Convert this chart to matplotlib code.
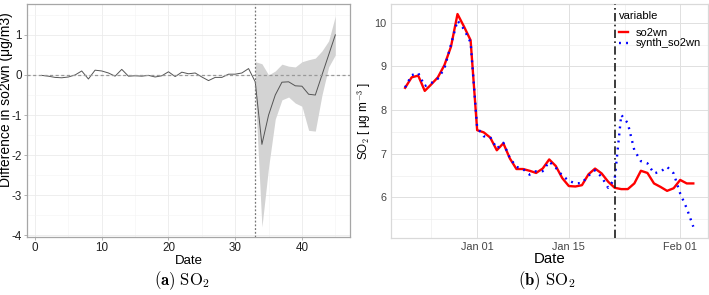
import numpy as np
import pandas as pd
import matplotlib
matplotlib.use('Agg')
import matplotlib.pyplot as plt
import matplotlib.dates as mdates

plt.rcParams['font.family'] = ['Liberation Sans', 'DejaVu Sans']
plt.rcParams['mathtext.fontset'] = 'cm'
plt.rcParams['axes.unicode_minus'] = False

"""
DATA
"""

# left panel: difference so2wn - synthetic, day index 1..45
day_index = np.arange(1, 46)
diff_values = [-0.01, -0.03, -0.06, -0.07, -0.05, 0.0, 0.1, -0.1, 0.12, 0.1,
               0.05, -0.03, 0.14, -0.03, -0.02, -0.03, -0.01, -0.05, -0.02, 0.08,
               -0.04, 0.07, 0.03, 0.05, -0.05, -0.14, -0.06, -0.06, 0.02, 0.02,
               0.05, 0.16, -0.17, -1.73, -1.0, -0.5, -0.18, -0.17, -0.27, -0.28,
               -0.48, -0.5, 0.0, 0.5, 1.0]

# confidence band after the intervention (days 33..45)
band_days = np.arange(33, 46)
band_upper = [0.33, 0.28, 0.0, 0.1, 0.27, 0.22, 0.2, 0.33, 0.38, 0.42, 0.6, 0.85, 1.47]
band_lower = [-0.4, -3.79, -2.3, -1.1, -0.62, -0.55, -0.7, -0.78, -1.38, -1.4, -0.5, 0.2, 0.5]

intervention_day = 33

# right panel: daily series
dates = pd.date_range('2019-12-21', '2020-02-03', freq='D')
so2wn = [8.51, 8.75, 8.79, 8.44, 8.59, 8.75, 9.03, 9.45, 10.2, 9.91,
         9.6, 7.54, 7.49, 7.37, 7.08, 7.24, 6.89, 6.65, 6.65, 6.61,
         6.56, 6.66, 6.87, 6.72, 6.44, 6.26, 6.25, 6.28, 6.53, 6.66,
         6.55, 6.36, 6.22, 6.19, 6.19, 6.32, 6.61, 6.56, 6.32, 6.24,
         6.15, 6.21, 6.4, 6.32, 6.32]
synth_so2wn = [8.52, 8.8, 8.85, 8.55, 8.62, 8.72, 8.95, 9.5, 10.05, 9.85,
               9.55, 7.6, 7.4, 7.38, 7.12, 7.25, 6.9, 6.7, 6.65, 6.52,
               6.6, 6.6, 6.82, 6.68, 6.5, 6.38, 6.32, 6.33, 6.5, 6.62,
               6.47, 6.22, 6.42, 7.89, 7.7, 7.08, 6.83, 6.78, 6.55, 6.59,
               6.7, 6.55, 6.09, 5.75, 5.33]
intervention_date = pd.Timestamp('2020-01-22')

W, H = 709, 295
fig = plt.figure(figsize=(W / 100, H / 100), dpi=100)

# ---------------- left panel ----------------
ax1 = fig.add_axes([27 / W, 58 / H, 323 / W, 233 / H])
ax1.fill_between(band_days, band_lower, band_upper, color='#d3d3d3', lw=0, zorder=2)
ax1.plot(day_index, diff_values, color='#555555', lw=0.7, zorder=3)
ax1.axhline(0, color='#999999', lw=0.9, ls=(0, (2.5, 2)), zorder=4)
ax1.axvline(intervention_day, color='#777777', lw=0.9, ls=(0, (1.5, 1.5)), zorder=4)

ax1.set_xlim(-1.2, 47.2)
ax1.set_ylim(-4.04, 1.77)
ax1.set_xticks([0, 10, 20, 30, 40])
ax1.set_xticks([5, 15, 25, 35, 45], minor=True)
ax1.set_yticks([-4, -3, -2, -1, 0, 1])
ax1.set_yticks([-3.5, -2.5, -1.5, -0.5, 0.5, 1.5], minor=True)
ax1.grid(which='major', color='#ebebeb', lw=0.6, zorder=0)
ax1.grid(which='minor', color='#f4f4f4', lw=0.4, zorder=0)
ax1.set_axisbelow(True)
for sp in ax1.spines.values():
    sp.set_color('#a6a6a6')
    sp.set_linewidth(0.9)
ax1.tick_params(which='major', length=2.5, color='#a6a6a6', width=0.6,
                labelsize=8.4, labelcolor='#222222', pad=1.0)
ax1.tick_params(which='minor', length=0)
ax1.set_xlabel('Date', fontsize=9.5, labelpad=0.5)
fig.text(5.6 / W, 1 - 100 / H, 'Difference in so2wn (\u03bcg/m3)', rotation=90,
         ha='center', va='center', fontsize=10)

# ---------------- right panel ----------------
ax2 = fig.add_axes([390.7 / W, 57 / H, 317 / W, 234 / H])
ax2.plot(dates, so2wn, color='#ff0000', lw=1.7, zorder=3, label='so2wn')
ax2.plot(dates, synth_so2wn, color='#0000ff', lw=1.7, ls=(0, (0.8, 2.2)),
         zorder=4, label='synth_so2wn')
ax2.axvline(intervention_date, color='#1a1a1a', lw=1.2, ls=(0, (5, 2, 1, 2)), zorder=5)

x_pad = pd.Timedelta(hours=2.2 * 24)
ax2.set_xlim(dates[0] - x_pad, dates[-1] + x_pad)
ax2.set_ylim(5.07, 10.43)
ax2.set_xticks([pd.Timestamp('2020-01-01'), pd.Timestamp('2020-01-15'),
                pd.Timestamp('2020-02-01')])
ax2.set_xticks([pd.Timestamp('2019-12-25'), pd.Timestamp('2020-01-08'),
                pd.Timestamp('2020-01-23 12:00')], minor=True)
ax2.xaxis.set_major_formatter(mdates.DateFormatter('%b %d'))
ax2.set_yticks([6, 7, 8, 9, 10])
ax2.set_yticks([5.5, 6.5, 7.5, 8.5, 9.5], minor=True)
ax2.grid(which='major', color='#e0e0e0', lw=0.7, zorder=0)
ax2.grid(which='minor', color='#eeeeee', lw=0.5, zorder=0)
ax2.set_axisbelow(True)
for sp in ax2.spines.values():
    sp.set_color('#d9d9d9')
    sp.set_linewidth(0.9)
ax2.tick_params(which='both', length=0, labelsize=7.8, labelcolor='#444444', pad=3)
ax2.set_xlabel('Date', fontsize=10.8, labelpad=0)
ax2.set_ylabel(r'SO$_2$ [ $\mathregular{\mu}$g m$^{-3}$ ]', fontsize=8.5, labelpad=1)

leg = ax2.legend(title='variable', loc='upper left',
                 bbox_to_anchor=((619 - 390.7) / 317, 1 - 7 / 234),
                 frameon=False, fontsize=8, title_fontsize=8, handlelength=0.8,
                 handletextpad=0.7, labelspacing=0.05, borderaxespad=0, borderpad=0)
leg._legend_box.align = 'left'
leg._legend_box.sep = 5

# captions
fig.text(181.7 / W, 1 - 281 / H, r'$\mathbf{(a)}\ \mathrm{SO_2}$', ha='center',
         va='center', fontsize=12)
fig.text(547 / W, 1 - 281 / H, r'$\mathbf{(b)}\ \mathrm{SO_2}$', ha='center',
         va='center', fontsize=12)

fig.savefig('out.png', dpi=100)
